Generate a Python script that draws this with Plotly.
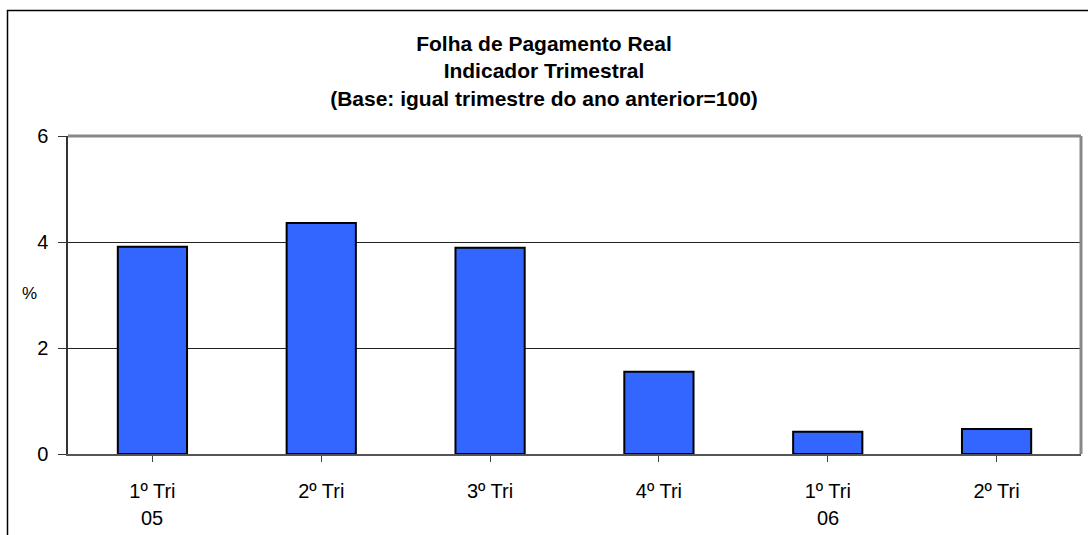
import plotly.graph_objects as go

categories = ["1º Tri", "2º Tri", "3º Tri", "4º Tri", "1º Tri ", "2º Tri "]
tick_text = ["1º Tri", "2º Tri", "3º Tri", "4º Tri", "1º Tri", "2º Tri"]
values = [3.91, 4.36, 3.89, 1.55, 0.42, 0.47]
year_labels = {0: "05", 4: "06"}

W, H = 1088, 535
ml, mr, mt, mb = 68, 7, 136, 81
pw, ph = W - ml - mr, H - mt - mb

fig = go.Figure(go.Bar(
    x=list(range(len(categories))), y=values,
    marker=dict(color="#3366FF", line=dict(color="black", width=2)),
    width=0.41,
))

fig.update_layout(
    width=W, height=H,
    margin=dict(l=ml, r=mr, t=mt, b=mb),
    paper_bgcolor="white", plot_bgcolor="white",
    showlegend=False,
    font=dict(family="Liberation Sans, Arial, sans-serif", color="black"),
    title=dict(
        text="<b>Folha de Pagamento Real<br>Indicador Trimestral<br>(Base: igual trimestre do ano anterior=100)</b>",
        x=0.5, xref="container", xanchor="center", y=1 - 51 / H, yanchor="middle",
        font=dict(size=21, color="black"),
    ),
    xaxis=dict(
        range=[-0.5, len(categories) - 0.5],
        tickmode="array", tickvals=list(range(len(categories))), ticktext=tick_text,
        tickson="boundaries", ticks="outside", ticklen=6, tickcolor="#444",
        showline=True, linecolor="#555", linewidth=2, mirror=False,
        showgrid=False, tickfont=dict(size=20), ticklabelstandoff=12,
        zeroline=False,
    ),
    yaxis=dict(
        range=[0, 6], tickvals=[0, 2, 4, 6], ticks="outside", ticklen=8, tickcolor="#333",
        showline=True, linecolor="#333", linewidth=1.5,
        showgrid=True, gridcolor="#222", gridwidth=1,
        tickfont=dict(size=20), ticklabelstandoff=6, zeroline=False,
    ),
)

# year labels under the ticks
for i, t in year_labels.items():
    fig.add_annotation(x=i, y=-(518 - 454) / ph, xref="x", yref="paper",
                       text=t, showarrow=False, font=dict(size=20), yanchor="middle")

# y-axis title "%"
fig.add_annotation(x=(29.5 - ml) / pw, y=(454 - 293) / ph, xref="paper", yref="paper",
                   text="%", showarrow=False, font=dict(size=17), xanchor="center", yanchor="middle")

# top and right gray border of plot area
fig.add_shape(type="line", xref="paper", yref="paper", x0=0, x1=1, y0=1, y1=1,
              line=dict(color="#888", width=3))
fig.add_shape(type="line", xref="paper", yref="paper", x0=1, x1=1, y0=0, y1=1,
              line=dict(color="#888", width=3))

# outer frame
fig.add_shape(type="rect", xref="paper", yref="paper",
              x0=(7.5 - ml) / pw, x1=1.1, y0=-0.5, y1=1 + (mt - 10.5) / ph,
              line=dict(color="black", width=1.5), fillcolor="rgba(0,0,0,0)", layer="above")

fig.write_html("out.html", config={"displayModeBar": False},
               post_script="document.body.style.margin='0';")
